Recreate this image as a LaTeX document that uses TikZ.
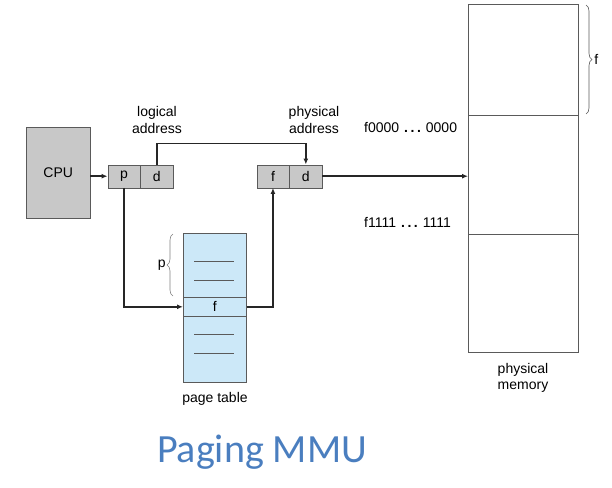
\documentclass[tikz,border=0pt]{standalone}
\usepackage{fontspec}
\setmainfont{Liberation Sans}
\newfontfamily\calib{Carlito}
\usetikzlibrary{arrows.meta,decorations.pathreplacing}
\definecolor{cpugray}{RGB}{200,200,200}
\definecolor{ptblue}{RGB}{204,232,248}
\definecolor{titleblue}{RGB}{74,126,191}
\definecolor{edge}{RGB}{90,90,90}
\tikzset{
  cell/.style={draw=edge,fill=cpugray,minimum width=32.5pt,minimum height=23pt,inner sep=0pt,font=\fontsize{14}{16}\selectfont},
  conn/.style={line width=1.6pt,draw=black!85},
  arr/.style={conn,-{Latex[length=6pt,width=5pt]}},
  lbl/.style={font=\fontsize{14}{16.5}\selectfont,align=center,inner sep=0pt},
  thinline/.style={draw=edge,line width=0.6pt}
}
\newcommand{\dd}{\hspace{5pt}\textbf{.\hspace{2.5pt}.\hspace{2.5pt}.}\hspace{5pt}}
\begin{document}
\begin{tikzpicture}[x=1pt,y=-1pt]
\useasboundingbox (0,0) rectangle (612,487);
% CPU
\node[draw=edge,fill=cpugray,minimum width=64pt,minimum height=91pt,inner sep=0pt,anchor=north west,font=\fontsize{14}{16}\selectfont] (cpu) at (26,127) {CPU};
% logical address
\node[cell,anchor=north west] (p) at (107.5,164.5) {p};
\node[cell,anchor=west] (ld) at (p.east) {d};
% physical address
\node[cell,anchor=north west] (f) at (256.5,164.5) {f};
\node[cell,anchor=west] (pd) at (f.east) {d};
% labels
\node[lbl] (la) at (157,120) {logical\\address};
\node[lbl] (pa) at (314,120) {physical\\address};
\node[lbl,anchor=west] (f0) at (364,128) {f0000\dd 0000};
\node[lbl,anchor=west] (f1) at (364,222) {f1111\dd 1111};
% memory
\node[draw=edge,line width=0.6pt,minimum width=110pt,minimum height=348pt,inner sep=0pt,anchor=north west] (mem) at (468,4) {};
\draw[thinline] (468,115) -- (578,115);
\draw[thinline] (468,234) -- (578,234);
\draw[thinline,decorate,decoration={brace,amplitude=6pt}] (586,5) -- (586,114) node[midway,right=8pt,lbl] (fl) {f};
\node[lbl] (pm) at (523,378) {physical\\memory};
% page table
\node[draw=edge,fill=ptblue,line width=0.6pt,minimum width=63pt,minimum height=149pt,inner sep=0pt,anchor=north west] (pt) at (183,233) {};
\node[draw=edge,line width=0.6pt,minimum width=63pt,minimum height=19pt,inner sep=0pt,anchor=north west,font=\fontsize{14}{16}\selectfont] (frow) at (183,297) {f};
\draw[thinline] (194,261) -- (234,261);
\draw[thinline] (194,280) -- (234,280);
\draw[thinline] (194,334) -- (234,334);
\draw[thinline] (194,353) -- (234,353);
\draw[thinline,draw=gray,decorate,decoration={brace,amplitude=6pt}] (173,296) -- (173,234) node[midway,left=7pt,lbl] (pl) {p};
\node[lbl] (ptl) at (215,399) {page table};
% connectors
\draw[arr] (cpu.east |- p.west) -- (p.west);
\draw[arr] (ld.north) -- ++(0,-21) -| (pd.north);
\draw[arr] (p.south) |- (frow.west);
\draw[arr] (frow.east) -| (f.south);
\draw[arr] (pd.east) -- (mem.west |- pd.east);
% title
\node[font=\calib\fontsize{40}{44}\selectfont,text=titleblue] (title) at (262,452) {Paging MMU};
\end{tikzpicture}
\end{document}
